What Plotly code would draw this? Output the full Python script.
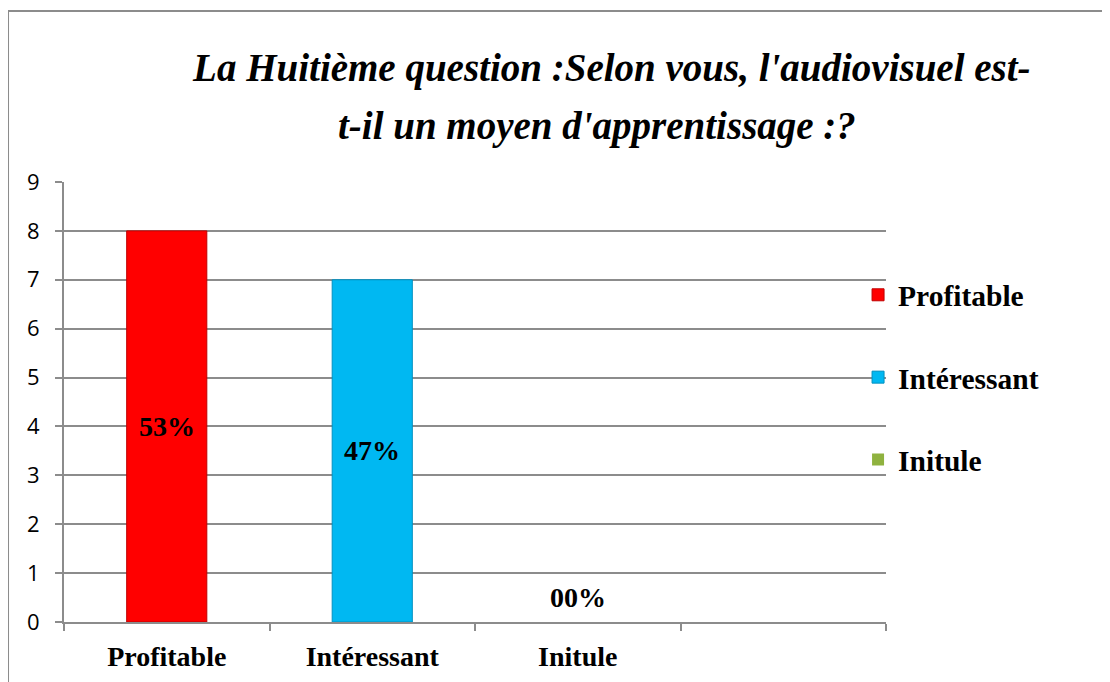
import plotly.graph_objects as go

categories = ["Profitable", "Intéressant", "Initule"]
values = [8, 7, 0]
percent_labels = ["53%", "47%", "00%"]
colors = ["#ff0000", "#00b8f2", "#8fb23f"]
edge_colors = ["#c00000", "#0090c0", "#6a8a2a"]
title_line1 = "La Huitième question :Selon vous, l'audiovisuel est-"
title_line2 = "t-il un moyen d'apprentissage :?"

label_font = dict(family="Liberation Serif", size=28, color="black")
legend_font = dict(family="Liberation Serif", size=29.5, color="black")
title_font = dict(family="Liberation Serif", size=39, color="black")

fig = go.Figure()
for i, (cat, val) in enumerate(zip(categories, values)):
    fig.add_trace(go.Bar(
        x=[i], y=[val], name="<b>%s</b>" % cat, width=0.39,
        marker=dict(color=colors[i], line=dict(color=edge_colors[i], width=(1 if val else 0))),
        legendgroup=cat, hoverinfo="skip",
    ))

annotations = []
for i, (val, lab) in enumerate(zip(values, percent_labels)):
    annotations.append(dict(
        x=i, y=val / 2, xref="x", yref="y", text="<b>%s</b>" % lab,
        showarrow=False, font=label_font, yshift=(25 if val == 0 else 0),
    ))

annotations.append(dict(
    x=0.648, y=1.127, xref="paper", yref="paper", text="<b><i>%s</i></b>" % title_line2,
    showarrow=False, font=title_font, xanchor="center", yanchor="middle",
))

fig.update_layout(
    width=1110, height=682,
    margin=dict(l=56, r=232, t=174, b=68),
    paper_bgcolor="white", plot_bgcolor="white",
    barmode="overlay",
    title=dict(text="<b><i>%s</i></b>" % title_line1, font=title_font,
               x=0.544, xanchor="center", y=0.913, yanchor="middle", yref="container"),
    showlegend=True,
    legend=dict(x=0.966, xanchor="left", y=0.802, yanchor="top",
                font=legend_font, tracegroupgap=41, bgcolor="rgba(0,0,0,0)",
                traceorder="grouped"),
    annotations=annotations,
    xaxis=dict(
        range=[-0.5, 3.5], tickmode="array", tickvals=list(range(len(categories))),
        ticktext=["<b>%s</b>" % c for c in categories], tickfont=label_font,
        showgrid=False, zeroline=False, showline=True, linecolor="#8c8c8c", linewidth=2,
        ticks="",
        minor=dict(ticks="outside", tick0=-0.5, dtick=1, ticklen=7, tickcolor="#8c8c8c",
                   tickwidth=2, showgrid=False),
        ticklabelstandoff=8, fixedrange=True,
    ),
    yaxis=dict(
        range=[0, 9], dtick=1, tick0=0, showgrid=True, gridcolor="#8c8c8c", gridwidth=1.5,
        showline=True, linecolor="#8c8c8c", linewidth=2, zeroline=False,
        ticks="outside", ticklen=7, tickcolor="#8c8c8c", tickwidth=2,
        tickfont=dict(family="Open Sans", size=22, color="black"), fixedrange=True,
        ticklabelstandoff=11,
    ),
    shapes=[dict(type="rect", xref="paper", yref="paper", x0=-0.0681, x1=1.3,
                 y0=-0.3, y1=1.3886, line=dict(color="#8c8c8c", width=2),
                 fillcolor="rgba(0,0,0,0)", layer="below")],
)

fig.write_html("out.html")
